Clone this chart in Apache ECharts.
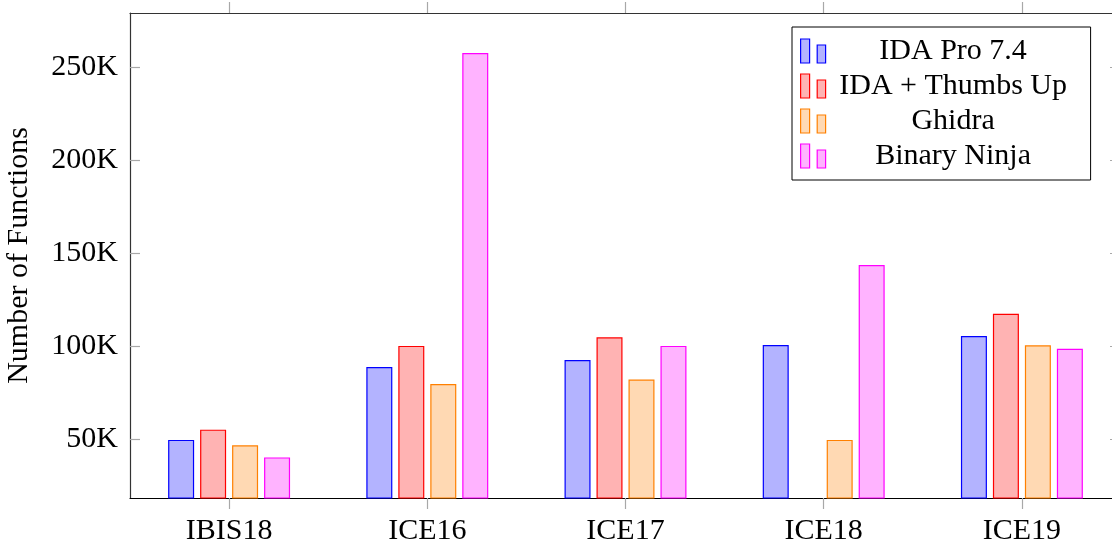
<!DOCTYPE html>
<html>
<head>
<meta charset="utf-8">
<script src="https://cdn.jsdelivr.net/npm/echarts@6/dist/echarts.min.js"></script>
<style>
  html, body { margin: 0; padding: 0; background: #fff; }
  #chart { width: 1112px; height: 545px; }
</style>
</head>
<body>
<div id="chart"></div>
<script>
const categories = ['IBIS18', 'ICE16', 'ICE17', 'ICE18', 'ICE19'];
const seriesNames = ['IDA Pro 7.4', 'IDA + Thumbs Up', 'Ghidra', 'Binary Ninja'];
const idaPro = [49700, 88900, 92600, 100700, 105500];
const idaThumbs = [55200, 100200, 104800, null, 117500];
const ghidra = [46800, 79700, 82100, 49700, 100500];
const binja = [40300, 257500, 100200, 143600, 98700];
const yTicks = [50000, 100000, 150000, 200000, 250000];

const fills = ['#B3B3FF', '#FFB3B3', '#FFD9B3', '#FFB3FF'];
const strokes = ['#0000FF', '#FF0000', '#FF8000', '#FF00FF'];
const values = [idaPro, idaThumbs, ghidra, binja];

const FONT = 'Liberation Serif';
const chart = echarts.init(document.getElementById('chart'), null, { renderer: 'canvas' });

const legendIcon = 'path://M0,0h9v24h-9z M16.6,6h8.4v18h-8.4z';

const option = {
  animation: false,
  backgroundColor: '#fff',
  textStyle: { fontFamily: FONT },
  grid: { left: 130, right: -9, top: 13, bottom: 47, containLabel: false, outerBoundsMode: 'none' },
  legend: {
    orient: 'vertical',
    left: 792,
    top: 27,
    padding: [9, 15, 9, 8],
    itemGap: 5,
    itemWidth: 25,
    itemHeight: 24,
    itemStyle: { borderWidth: 1.2 },
    backgroundColor: '#fff',
    borderColor: '#000',
    borderWidth: 1,
    icon: legendIcon,
    formatter: function (name) { return '{a|' + name + '}'; },
    textStyle: {
      fontFamily: FONT,
      fontSize: 30,
      color: '#000',
      lineHeight: 30,
      rich: { a: { width: 245, align: 'center', fontFamily: FONT, fontSize: 30, color: '#000', lineHeight: 30 } }
    },
    data: seriesNames
  },
  xAxis: [
    {
      type: 'category',
      data: categories,
      position: 'bottom',
      boundaryGap: true,
      axisLine: { show: true, lineStyle: { color: '#000', width: 1.2 } },
      axisTick: { show: true, alignWithLabel: true, inside: false, length: 11, lineStyle: { color: '#a8a8a8', width: 1.2 } },
      axisLabel: { fontFamily: FONT, fontSize: 30, color: '#000', margin: 18 },
      splitLine: { show: false }
    },
    {
      type: 'category',
      data: categories,
      position: 'top',
      boundaryGap: true,
      axisLine: { show: true, lineStyle: { color: '#333', width: 1.2 } },
      axisTick: { show: true, alignWithLabel: true, inside: false, length: 11, lineStyle: { color: '#a8a8a8', width: 1.2 } },
      axisLabel: { show: false },
      splitLine: { show: false }
    }
  ],
  yAxis: [
    {
      type: 'value',
      position: 'left',
      min: 18500,
      max: 279000,
      name: 'Number of Functions',
      nameLocation: 'middle',
      nameRotate: 90,
      nameGap: 96,
      nameTextStyle: { fontFamily: FONT, fontSize: 30, color: '#000' },
      axisLine: { show: true, lineStyle: { color: '#333', width: 1.2 } },
      axisTick: { show: true, inside: true, length: 10, customValues: yTicks, lineStyle: { color: '#a8a8a8', width: 1.2 } },
      axisLabel: {
        fontFamily: FONT, fontSize: 30, color: '#000', margin: 12,
        customValues: yTicks,
        formatter: function (v) { return (v / 1000) + 'K'; }
      },
      splitLine: { show: false }
    },
    {
      type: 'value',
      position: 'right',
      min: 18500,
      max: 279000,
      axisLine: { show: false },
      axisTick: { show: true, inside: true, length: 11, customValues: yTicks, lineStyle: { color: '#a8a8a8', width: 1.2 } },
      axisLabel: { show: false, customValues: yTicks },
      splitLine: { show: false }
    }
  ],
  series: seriesNames.map(function (name, i) {
    return {
      name: name,
      type: 'bar',
      xAxisIndex: 0,
      yAxisIndex: 0,
      data: values[i],
      barWidth: 26,
      barGap: '23%',
      itemStyle: { color: fills[i], borderColor: strokes[i], borderWidth: 1.2 }
    };
  })
};

chart.setOption(option);
</script>
</body>
</html>
